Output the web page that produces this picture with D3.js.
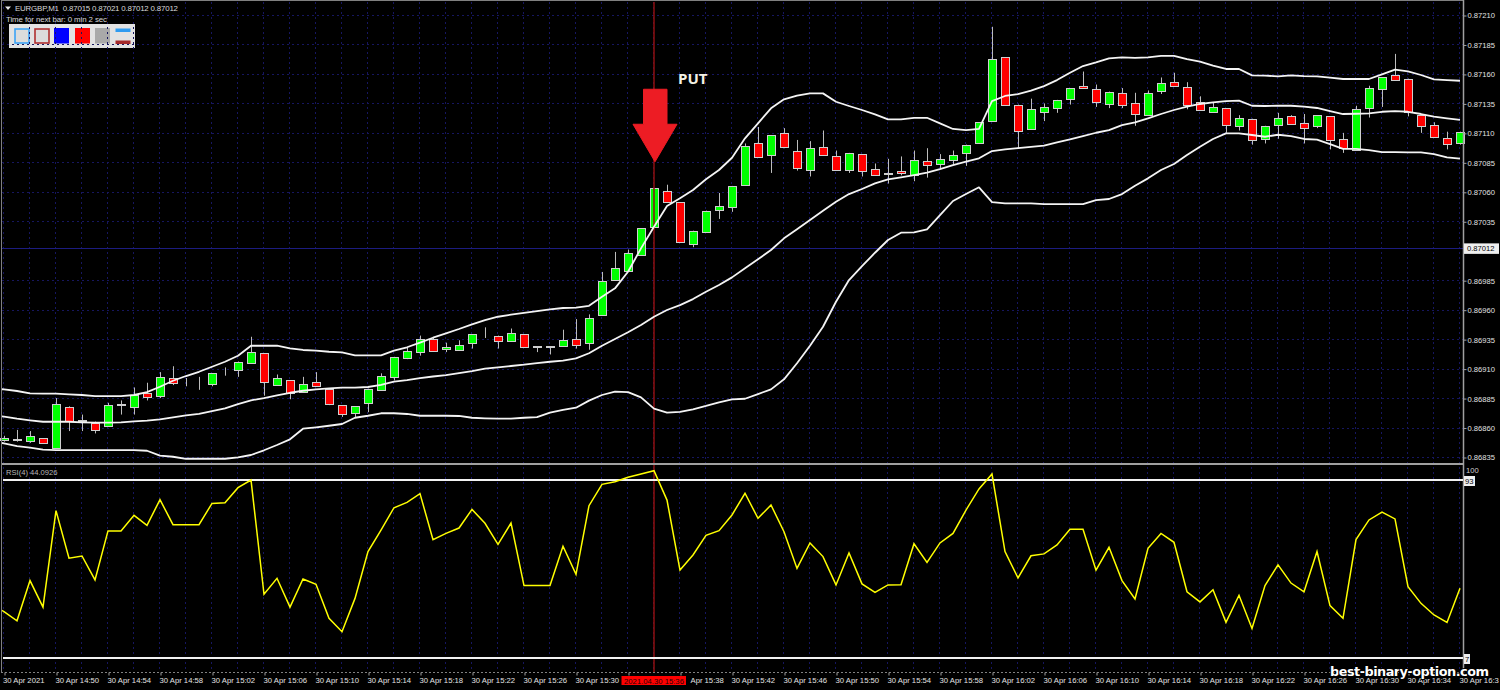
<!DOCTYPE html>
<html>
<head>
<meta charset="utf-8">
<script src="https://cdnjs.cloudflare.com/ajax/libs/d3/7.8.5/d3.min.js"></script>
<style>
html,body{margin:0;padding:0;background:#000;overflow:hidden}
svg{display:block}
text{font-family:"Liberation Sans",Arial,sans-serif}
</style>
</head>
<body>
<svg id="c" width="1500" height="690"></svg>
<script>
// all prices in 1e-5 units (points)
const opens=[86849,86850,86849,86851,86843,86877,86865,86864,86861,86880,
86878,86889,86887,86902,86899,86899,86897,86907,86909,86915,
86923,86896,86900,86890,86899,86893,86879,86872,86881,86892,
86903,86919,86924,86935,86926,86926,86931,86938,86938,86933,
86939,86929,86929,86929,86935,86932,86955,86985,86993,87006,
87030,87061,87051,87016,87026,87045,87047,87066,87101,87091,
87110,87095,87078,87098,87090,87079,87092,87079,87075,87078,
87074,87086,87084,87087,87093,87101,87120,87174,87134,87113,
87128,87131,87139,87150,87147,87135,87144,87135,87125,87145,
87153,87149,87136,87128,87131,87116,87122,87105,87117,87124,
87118,87116,87124,87105,87095,87131,87147,87159,87156,87125,
87117,87106,87102];
const highs=[86853,86858,86857,86851,86885,86878,86871,86865,86881,86883,
86894,86898,86907,86912,86902,86903,86906,86911,86916,86937,
86923,86905,86900,86903,86907,86893,86879,86878,86893,86906,
86920,86928,86938,86936,86932,86934,86939,86945,86938,86944,
86939,86929,86929,86943,86952,86956,86992,87009,87011,87029,
87063,87066,87051,87027,87044,87059,87065,87101,87115,87108,
87114,87104,87103,87112,87095,87093,87092,87084,87088,87090,
87095,87097,87092,87095,87100,87119,87200,87174,87134,87139,
87135,87138,87148,87162,87151,87145,87148,87144,87146,87157,
87161,87153,87141,87136,87131,87125,87122,87116,87127,87125,
87126,87125,87124,87110,87133,87150,87157,87177,87156,87125,
87119,87111,87111];
const lows=[86848,86848,86847,86847,86843,86857,86857,86855,86861,86871,
86871,86883,86885,86896,86895,86892,86895,86904,86903,86915,
86887,86896,86884,86890,86895,86879,86869,86869,86873,86892,
86900,86918,86921,86925,86924,86926,86927,86936,86927,86933,
86928,86924,86922,86929,86927,86926,86955,86985,86993,87006,
87030,87052,87017,87013,87026,87037,87043,87066,87089,87076,
87097,87078,87073,87091,87078,87076,87073,87074,87067,87074,
87069,87072,87080,87083,87082,87101,87120,87133,87097,87113,
87120,87127,87134,87148,87132,87131,87131,87116,87125,87143,
87150,87130,87129,87128,87110,87112,87100,87101,87105,87117,
87101,87114,87096,87093,87095,87123,87132,87155,87124,87110,
87106,87096,87100];
const closes=[86851,86849,86853,86847,86880,86865,86866,86858,86879,86879,
86888,86886,86903,86898,86899,86899,86906,86907,86916,86924,
86898,86902,86889,86897,86896,86880,86871,86878,86893,86904,
86920,86925,86935,86925,86928,86930,86939,86938,86934,86940,
86928,86928,86928,86934,86930,86953,86984,86995,87008,87029,
87063,87052,87017,87027,87044,87048,87065,87099,87089,87108,
87098,87081,87097,87091,87078,87093,87078,87074,87076,87076,
87087,87083,87088,87091,87100,87119,87173,87133,87112,87130,
87132,87138,87148,87148,87136,87145,87134,87126,87144,87152,
87150,87134,87129,87132,87117,87123,87104,87116,87123,87117,
87114,87125,87104,87097,87130,87148,87157,87155,87128,87116,
87107,87101,87111];
// indicator series start one bar before the first fully visible candle
const bbUpper=[86893,86892.4,86891,86889,86888.7,86888.7,86888.2,86887.6,86886.7,86886.7,86886.7,
86887.6,86890.1,86894.6,86899.7,86903.7,86907.3,86911.6,86915.8,86920.9,86929.4,
86929.4,86929.4,86927.2,86925.8,86925.2,86924.3,86923.8,86921.3,86921.3,86921.3,
86925.2,86928.1,86932,86936.2,86939.9,86943.6,86947.6,86951.2,86954,86955.7,
86957.2,86958.8,86960.3,86961.4,86961.7,86963.3,86971,86978.1,86992.2,87012,
87030.4,87047.9,87054.5,87061.5,87070.6,87078.5,87088.9,87105.4,87118.1,87130.8,
87138.5,87141.5,87143.5,87143.5,87136.4,87132.8,87129.4,87125.7,87121.5,87121.5,
87122.8,87122.8,87118.1,87113.3,87112.4,87113.3,87137,87141.3,87142.9,87145.8,
87149.7,87154.8,87161,87166.7,87169.8,87173.2,87174.1,87173.7,87174.1,87175.4,
87175.4,87172.6,87170.4,87167,87164.2,87164.2,87158.8,87158.5,87158,87158.8,
87158.2,87158,87156.8,87155.7,87155.7,87155.7,87159.7,87163.6,87162.2,87159.1,
87155.4,87154.8,87154.2];
const bbMiddle=[86870.5,86869.2,86867.5,86866.1,86864.9,86864.9,86864.9,86864.4,86864.1,86864.1,86864.4,
86865.3,86865.8,86867,86868.7,86870.4,86871.5,86874,86876.3,86879.9,86883.1,
86885,86887.3,86889.5,86891.2,86892.4,86893.3,86893.8,86893.8,86894.4,86896.1,
86898.9,86900.3,86902,86903.3,86904.5,86906.2,86907.9,86909.9,86911.1,86912.2,
86913.3,86914.7,86915.8,86916.7,86918.7,86923,86929.4,86935.1,86940.8,86947,
86954,86959.7,86963.9,86969,86975.2,86980.9,86987.4,86995.1,87002.7,87010.6,
87020.5,87028.2,87036.1,87043.9,87051.6,87058.1,87062.4,87067.2,87070.6,87072.3,
87074.2,87076.2,87079.3,87082.7,87085.5,87088.4,87094.6,87096,87097.1,87098.2,
87099.1,87102,87104.5,87107.3,87110.1,87112.4,87116.6,87118.9,87122.3,87126,
87129.4,87132.2,87134.5,87135.9,87137,87137.3,87133,87132.8,87133,87133,
87132.2,87131.1,87128.5,87126,87126.2,87126.6,87127.9,87128.5,87127.9,87126,
87123.7,87122.3,87121.1];
const bbLower=[86848.5,86846.6,86844.3,86842.9,86841.2,86840.9,86840.9,86840.9,86840.9,86840.9,86840.9,
86840.9,86840.3,86836.1,86835.2,86833.5,86833.5,86833.5,86833.5,86834.7,86836.7,
86840.7,86845.2,86850,86859,86860.2,86861.5,86863,86868.3,86870,86872.1,
86872.1,86871.5,86870,86870,86870,86869.8,86868.3,86867.8,86867.5,86867.5,
86868.3,86868.9,86872.6,86874.9,86876.8,86882.8,86887.6,86890.4,86890.1,86885.6,
86876,86872.6,86873.2,86875.5,86878.3,86881.4,86883.9,86884.4,86888.4,86892.4,
86900.9,86914.5,86929.4,86945.5,86966.7,86985.1,86997,87008.3,87019.1,87025.3,
87025.6,87028.2,87040.3,87052.2,87058.1,87063.8,87051.3,87050.2,87050.2,87050.2,
87049.6,87049.6,87049.6,87049.6,87053,87053.9,87058.1,87065.2,87071.4,87078.5,
87083.6,87091.2,87098.2,87104.8,87109.6,87109.6,87108.2,87106.7,87108.4,87107.3,
87104.8,87104.2,87100.5,87096.5,87096.5,87095.4,87093.7,87093.7,87093.5,87093.5,
87092,87089.2,87088.1];
const rsiValues=[33,29.4,25,44.4,31.6,78.2,55.2,56.3,44.7,68.4,68.4,
75.9,71.1,83.5,71.4,71.4,71.4,81.7,82,89.3,93,
37.8,45.5,31.6,45.2,42.6,26.2,19.7,35.8,58.4,68.8,
79.6,82.2,86.4,64.2,67.2,69.8,78.8,72.1,61.9,72.2,
42,42,42,61,47.4,80.6,90.9,92.2,94.3,95.9,
97.5,83.3,49.5,56.8,66.3,68.5,76.1,86.6,74.5,80.9,
68,50.3,62.6,56,42.3,57.7,42.8,38.7,42.3,42.4,
62.2,53.2,62.6,67.2,78.5,88.7,95.9,58.4,45.7,56.4,
57.3,61.6,69.2,69.2,49.4,60.5,44.4,35.5,60,67.2,
62.9,39,34.1,40,24.2,37.3,21.3,42,52,43.2,
39,58.4,32.3,26.2,64.2,73.7,77.5,74.2,41.5,33.4,
27.8,24.2,40.7];
const priceTicks=[87210,87185,87160,87135,87110,87085,87060,87035,86985,86960,86935,86910,86885,86860,86835];
const currentPrice=87012;
const rsiLevels=[93,7];
const timeTicks=["30 Apr 2021","30 Apr 14:50","30 Apr 14:54","30 Apr 14:58","30 Apr 15:02","30 Apr 15:06","30 Apr 15:10","30 Apr 15:14","30 Apr 15:18","30 Apr 15:22","30 Apr 15:26","30 Apr 15:30","","Apr 15:38","30 Apr 15:42","30 Apr 15:46","30 Apr 15:50","30 Apr 15:54","30 Apr 15:58","30 Apr 16:02","30 Apr 16:06","30 Apr 16:10","30 Apr 16:14","30 Apr 16:18","30 Apr 16:22","30 Apr 16:26","30 Apr 16:30","30 Apr 16:34","30 Apr 16:3"];
const signalIndex=50;
const signalLabel="2021.04.30 15:36";
const headerText="EURGBP,M1  0.87015 0.87021 0.87012 0.87012";
const timerText="Time for next bar: 0 min 2 sec";
const rsiText="RSI(4) 44.0926";
const watermark="best-binary-option.com";

const svg=d3.select("#c");
const x=d3.scaleLinear().domain([0,112]).range([4,1460]);
const y=d3.scaleLinear().domain([86835,87210]).range([457,15]);
const yR=d3.scaleLinear().domain([7,93]).range([658,480]);
const rightX=1463, plotL=2, mainBottom=463, rsiTop=465, bottomY=672;
const idx=d3.range(opens.length);
const GRID="#16165f";

svg.append("rect").attr("width",1500).attr("height",690).attr("fill","#000");
svg.append("clipPath").attr("id","plot").append("rect").attr("x",plotL).attr("y",0).attr("width",rightX-plotL).attr("height",bottomY);

// toolbar panel
const btn=svg.append("g");
btn.append("rect").attr("x",9).attr("y",24).attr("width",126).attr("height",24).attr("fill","#e2e2e2");
[[15,"#dcdcdc","#3da3f5"],[35,"#dcdcdc","#b03030"]].forEach(d=>btn.append("rect").attr("x",d[0]).attr("y",29).attr("width",14).attr("height",14).attr("fill",d[1]).attr("stroke",d[2]).attr("stroke-width",1.6));
[[54,"#0000ff"],[75,"#ff0000"],[95,"#a9a9a9"]].forEach(d=>btn.append("rect").attr("x",d[0]).attr("y",28).attr("width",15).attr("height",15.5).attr("fill",d[1]));
btn.append("rect").attr("x",115.5).attr("y",28.5).attr("width",15).attr("height",3.5).attr("fill","#2f9bf0");
btn.append("rect").attr("x",115.5).attr("y",40.5).attr("width",15).attr("height",3.5).attr("fill","#a52a2a");

// grid
const gridV=idx.filter(i=>i%2===0);
svg.append("g").selectAll("line").data(gridV).join("line")
 .attr("x1",i=>Math.round(x(i))-.5).attr("x2",i=>Math.round(x(i))-.5).attr("y1",2).attr("y2",mainBottom)
 .attr("stroke",GRID).attr("stroke-dasharray","2,3");
svg.append("g").selectAll("line").data(gridV).join("line")
 .attr("x1",i=>Math.round(x(i))-.5).attr("x2",i=>Math.round(x(i))-.5).attr("y1",rsiTop+2).attr("y2",bottomY)
 .attr("stroke",GRID).attr("stroke-dasharray","2,3");
svg.append("g").selectAll("line").data(priceTicks).join("line")
 .attr("x1",plotL).attr("x2",rightX).attr("y1",d=>Math.round(y(d))+.5).attr("y2",d=>Math.round(y(d))+.5)
 .attr("stroke",GRID).attr("stroke-dasharray","2,3");
svg.append("line").attr("x1",plotL).attr("x2",rightX).attr("y1",Math.round(y(currentPrice))+.5).attr("y2",Math.round(y(currentPrice))+.5).attr("stroke","#1c1c80");

// candles
const cg=svg.append("g");
const WICK="#bdbdbd", EDGE="#cfcfcf";
cg.selectAll("line").data(idx).join("line")
 .attr("x1",i=>Math.round(x(i))+.5).attr("x2",i=>Math.round(x(i))+.5)
 .attr("y1",i=>y(highs[i])).attr("y2",i=>y(lows[i]))
 .attr("stroke",WICK);
cg.selectAll("rect").data(idx).join("rect")
 .attr("x",i=>Math.round(x(i))-4+.5)
 .attr("width",8)
 .attr("y",i=>Math.round(Math.min(y(opens[i]),y(closes[i])))+.5)
 .attr("height",i=>Math.max(0,Math.round(Math.abs(y(opens[i])-y(closes[i])))))
 .attr("fill",i=>closes[i]>opens[i]?"#00ff00":closes[i]<opens[i]?"#ff0000":"#000")
 .attr("stroke",EDGE);

// signal vertical line
svg.append("line").attr("x1",x(signalIndex)).attr("x2",x(signalIndex)).attr("y1",2).attr("y2",bottomY+1)
 .attr("stroke","#8c0f0f").attr("stroke-width",1.5);

// Bollinger bands
const priceLine=d3.line().x((d,i)=>x(i-1)).y(d=>y(d));
[bbUpper,bbMiddle,bbLower].forEach(b=>svg.append("path").attr("clip-path","url(#plot)").attr("d",priceLine(b)).attr("fill","none").attr("stroke","#f4f4f4").attr("stroke-width",1.8).attr("stroke-linejoin","round"));

// separators & frame
svg.append("rect").attr("x",plotL-1).attr("y",mainBottom).attr("width",rightX-plotL+2).attr("height",2).attr("fill","#a0a0a0");
svg.append("line").attr("x1",1.5).attr("x2",1.5).attr("y1",0).attr("y2",bottomY).attr("stroke","#808080");
svg.append("line").attr("x1",1).attr("x2",rightX).attr("y1",.5).attr("y2",.5).attr("stroke","#808080");
svg.append("line").attr("x1",rightX+.5).attr("x2",rightX+.5).attr("y1",0).attr("y2",bottomY+1).attr("stroke","#a0a0a0").attr("stroke-width",1.5);
svg.append("line").attr("x1",1).attr("x2",rightX).attr("y1",bottomY+.5).attr("y2",bottomY+.5).attr("stroke","#808080").attr("stroke-dasharray","2,2");

// RSI levels and line
svg.append("g").selectAll("line").data(rsiLevels).join("line")
 .attr("x1",plotL+1).attr("x2",rightX).attr("y1",d=>yR(d)).attr("y2",d=>yR(d))
 .attr("stroke","#f2f2f2").attr("stroke-width",2);
svg.append("path").attr("clip-path","url(#plot)").attr("d",d3.line().x((d,i)=>x(i-1)).y(d=>yR(d))(rsiValues))
 .attr("fill","none").attr("stroke","#ffff00").attr("stroke-width",1.5);

// price axis
const pa=svg.append("g").attr("transform",`translate(${rightX+.5},0.5)`)
 .call(d3.axisRight(y).tickValues(priceTicks).tickSize(3).tickPadding(1).tickFormat(d=>(d/1e5).toFixed(5)));
pa.select(".domain").remove();
pa.selectAll("line").attr("stroke","#a0a0a0");
pa.selectAll("text").attr("fill","#e2e2e2").attr("font-size",7.6).attr("font-family","Liberation Sans");

// current price box
const cy=y(currentPrice);
svg.append("rect").attr("x",rightX+1).attr("y",cy-5).attr("width",35).attr("height",10.5).attr("fill","#efefef");
svg.append("text").attr("x",rightX+4).attr("y",cy+3).attr("font-size",7.6).attr("fill","#000").text((currentPrice/1e5).toFixed(5));

// RSI axis labels
svg.append("text").attr("x",rightX+3).attr("y",473).attr("font-size",7.6).attr("fill","#d0d0d0").text("100");
[[93,11],[7,6]].forEach(d=>{
 svg.append("rect").attr("x",rightX+1).attr("y",yR(d[0])-4).attr("width",d[1]).attr("height",10).attr("fill","#efefef");
 svg.append("text").attr("x",rightX+2).attr("y",yR(d[0])+4).attr("font-size",7.6).attr("fill","#000").text(d[0]);
});

// time axis
const tickIdx=idx.filter(i=>i%4===0);
const ta=svg.append("g").attr("transform",`translate(0.5,${bottomY+.5})`)
 .call(d3.axisBottom(x).tickValues(tickIdx).tickSize(3).tickPadding(2).tickFormat((d,i)=>timeTicks[i]));
ta.select(".domain").remove();
ta.selectAll("line").attr("stroke","#a0a0a0");
ta.selectAll("text").attr("fill","#e2e2e2").attr("font-size",7.7).attr("font-family","Liberation Sans")
 .attr("text-anchor","start").attr("dx",-1.5);
ta.selectAll("g.tick").filter(d=>d===0).select("text").attr("dx",-2);
// the 15:38 label is partly covered by the signal time box
ta.selectAll("g.tick").filter(d=>d===52).select("text").attr("dx",9.5);

// signal time box
svg.append("rect").attr("x",x(signalIndex)-32.5).attr("y",676).attr("width",64.5).attr("height",9).attr("fill","#ff0000");
svg.append("text").attr("x",x(signalIndex)).attr("y",683.5).attr("text-anchor","middle").attr("font-size",7.7).attr("fill","#2a0000").text(signalLabel);

// header
svg.append("path").attr("d","M5 6.5h6l-3 3.5z").attr("fill","#e8e8e8");
svg.append("text").attr("x",15).attr("y",11).attr("font-size",7.9).attr("fill","#d8d8d8").attr("xml:space","preserve").attr("textLength",163).style("white-space","pre").text(headerText);
svg.append("text").attr("x",6).attr("y",21.5).attr("font-size",7.9).attr("fill","#d8d8d8").attr("textLength",101).text(timerText);
svg.append("text").attr("x",6).attr("y",475).attr("font-size",7.6).attr("fill","#b8b8b8").text(rsiText);

// arrow annotation
const ax=x(signalIndex)+1, aTip=y(closes[signalIndex])-26.5;
svg.append("path").attr("d",`M${ax} ${aTip} L${ax-22} ${aTip-37.5} L${ax-11.5} ${aTip-37.5} L${ax-11.5} ${aTip-72.5} L${ax+12} ${aTip-72.5} L${ax+12} ${aTip-37.5} L${ax+22} ${aTip-37.5} Z`)
 .attr("fill","#ed1c24").attr("stroke","#ed1c24").attr("stroke-linejoin","round");
svg.append("text").attr("x",678).attr("y",84).attr("font-size",15).attr("font-weight","700").style("font-family","'Open Sans'").attr("fill","#f4f1e4").text("PUT");

// watermark
svg.append("text").attr("x",1330).attr("y",676).attr("font-size",13).attr("font-weight","700")
 .style("font-family","'DejaVu Sans'").attr("fill","#fff").attr("stroke","#000").attr("stroke-width",2).attr("paint-order","stroke")
 .attr("textLength",159).text(watermark);
</script>
</body>
</html>
